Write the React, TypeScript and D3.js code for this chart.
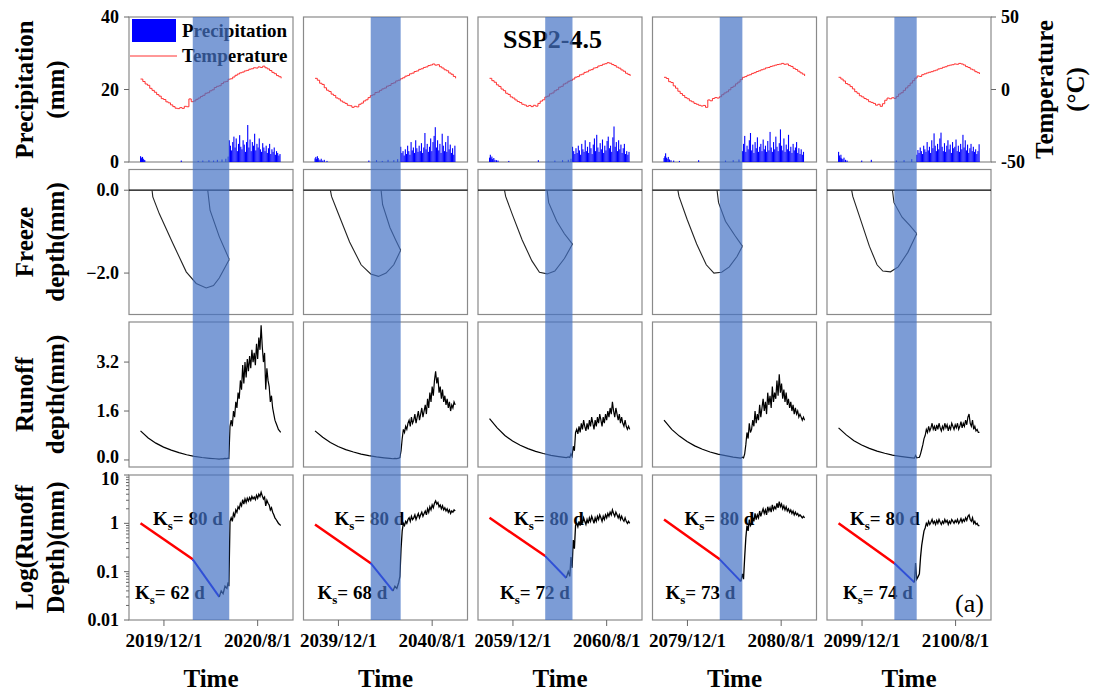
import React from 'react';
import * as d3 from 'd3';

// hydrological years shown in the five columns (each starts Oct 1)
const years = [2019, 2039, 2059, 2079, 2099];

// daily air temperature, sampled every 6 days from Oct 1 (°C)
const tempStep = 6;
const temp1 = [7.2, 5.5, 3.8, 2.9, 0.8, -0.6, -1.9, -3.5, -4.6, -6.3, -6.9, -8.5, -9.2, -10.6, -11.8, -12.9, -13.2, -12.5, -13.0, -11.6, -11.9, -6.5, -8.4, -7.9, -6.8, -5.9, -4.8, -4.0, -2.6, -2.2, -0.9, -0.2, 1.4, 2.2, 2.6, 4.1, 5.2, 5.6, 7.1, 7.4, 8.6, 9.8, 10.7, 11.5, 12.0, 12.8, 13.2, 14.0, 14.3, 15.0, 14.8, 15.6, 15.2, 16.1, 15.0, 14.2, 13.1, 11.8, 10.9, 9.6, 8.8, 7.7];
const temp2 = [7.7, 6.4, 4.3, 3.5, 1.2, -0.5, -1.4, -3.2, -4.1, -5.8, -6.5, -7.9, -8.8, -9.6, -10.9, -11.2, -12.3, -11.6, -12.0, -10.2, -9.4, -7.9, -7.1, -5.6, -4.2, -3.6, -2.1, -1.8, -0.6, 0.4, 1.0, 2.3, 2.8, 4.1, 4.6, 5.9, 6.4, 7.4, 8.1, 9.2, 9.7, 10.8, 11.3, 12.4, 12.8, 13.9, 14.3, 15.2, 15.6, 16.5, 16.9, 17.6, 16.8, 17.1, 15.7, 14.8, 13.6, 12.9, 11.4, 10.5, 9.0, 7.7];
const temp3 = [7.7, 6.1, 5.0, 3.2, 2.1, 0.3, -0.8, -2.6, -3.4, -5.1, -5.9, -7.2, -8.3, -9.0, -10.2, -10.7, -11.6, -11.0, -11.8, -10.9, -11.5, -9.6, -8.0, -7.1, -5.2, -4.6, -3.0, -2.4, -0.9, -0.1, 1.6, 2.2, 3.8, 4.5, 5.7, 6.3, 7.2, 8.5, 8.9, 10.1, 10.6, 11.8, 12.2, 13.3, 13.7, 14.8, 15.1, 16.2, 16.6, 17.4, 17.8, 18.5, 18.1, 17.2, 16.5, 15.4, 14.7, 13.5, 12.6, 11.2, 10.4, 9.3];
const temp4 = [8.4, 7.6, 5.4, 4.8, 2.5, 0.9, -1.2, -2.8, -4.1, -5.6, -6.4, -7.8, -8.5, -9.6, -10.2, -10.9, -11.4, -11.0, -12.3, -7.2, -7.8, -6.2, -5.6, -5.9, -5.0, -3.6, -2.4, -1.6, -0.2, 1.4, 2.3, 3.9, 5.1, 6.8, 8.4, 8.9, 9.8, 10.2, 11.1, 11.6, 12.4, 12.9, 13.6, 14.1, 14.9, 15.2, 15.9, 16.3, 16.8, 17.2, 17.5, 18.0, 17.4, 17.6, 16.5, 15.9, 14.6, 13.8, 12.6, 11.5, 10.6, 9.3];
const temp5 = [8.4, 7.2, 5.9, 4.1, 3.3, 2.0, 0.4, -1.5, -2.6, -4.3, -5.1, -6.2, -7.0, -8.4, -8.9, -9.6, -10.8, -10.2, -11.6, -9.8, -7.4, -5.9, -6.4, -5.7, -6.1, -4.8, -3.1, -2.2, -0.6, 1.1, 2.6, 4.4, 6.1, 7.9, 9.3, 9.0, 10.2, 10.8, 11.4, 11.9, 12.3, 12.9, 13.4, 14.2, 14.6, 15.3, 15.7, 16.4, 16.8, 17.1, 17.6, 17.4, 18.0, 17.6, 16.9, 15.8, 15.2, 14.1, 13.5, 12.3, 11.6, 10.7];
const temps = [temp1, temp2, temp3, temp4, temp5];

// precipitation: wet season every 3 days from wetStart, plus scattered [day, mm] before it
const precipStep = 3;
const wetStart = [231, 223, 216, 204, 203];
const wet1 = [6.0, 4.5, 3.2, 5.5, 7.0, 4.0, 6.5, 3.0, 5.0, 7.4, 4.2, 3.5, 6.0, 4.8, 2.8, 5.5, 10.2, 4.0, 6.2, 3.0, 5.5, 4.5, 7.8, 3.2, 5.0, 4.0, 6.5, 3.5, 2.8, 5.2, 4.0, 3.0, 4.5, 2.5, 3.8, 5.0, 2.2, 3.5, 2.8, 4.0, 2.0, 3.0, 2.5, 1.8, 2.2];
const wet2 = [4.2, 2.5, 3.0, 1.8, 3.5, 2.2, 4.5, 3.0, 2.0, 5.5, 3.2, 4.0, 2.5, 6.0, 3.8, 2.8, 4.5, 3.0, 5.2, 2.5, 4.0, 8.0, 3.5, 5.0, 2.8, 4.2, 6.5, 3.0, 5.5, 7.2, 9.6, 4.0, 6.0, 3.2, 5.0, 2.5, 7.8, 4.5, 3.0, 5.5, 2.8, 7.2, 3.5, 4.8, 2.5, 3.8, 2.0, 4.5];
const wet3 = [4.2, 3.0, 2.2, 3.8, 2.5, 4.5, 3.2, 2.0, 5.0, 3.5, 2.8, 6.0, 3.0, 4.2, 2.5, 5.5, 3.8, 2.2, 4.8, 6.5, 3.0, 7.5, 4.0, 2.8, 5.2, 3.5, 6.2, 2.5, 4.5, 3.2, 5.8, 7.0, 3.8, 4.5, 2.8, 6.8, 9.8, 4.2, 5.5, 3.0, 6.0, 3.5, 4.8, 2.5, 3.8, 5.0, 2.2, 3.0, 2.0, 2.8];
const wet4 = [3.0, 5.0, 7.2, 2.8, 4.5, 3.5, 6.0, 8.0, 3.2, 4.8, 2.5, 5.5, 3.8, 6.8, 2.8, 4.2, 5.0, 3.0, 6.2, 3.5, 4.5, 2.8, 5.8, 3.2, 8.3, 4.0, 2.8, 5.5, 3.5, 7.0, 4.2, 3.0, 5.2, 9.0, 4.5, 3.2, 6.5, 2.8, 4.8, 3.5, 7.5, 3.0, 4.2, 2.5, 5.0, 3.2, 4.0, 5.5, 2.5, 3.8, 2.2, 3.5, 2.0, 2.8];
const wet5 = [2.0, 3.3, 2.5, 4.0, 3.0, 2.2, 4.5, 3.5, 2.8, 5.5, 3.2, 4.2, 2.5, 6.0, 3.8, 7.9, 4.5, 3.0, 5.0, 3.5, 6.5, 8.1, 4.2, 3.0, 5.2, 2.8, 4.5, 6.0, 3.5, 4.8, 2.5, 5.5, 3.8, 4.2, 6.2, 3.0, 4.5, 2.8, 5.0, 3.5, 7.5, 4.0, 6.0, 3.2, 4.8, 2.5, 3.8, 5.0, 3.0, 4.2, 2.8, 3.5, 2.2, 3.0, 4.9];
const wets = [wet1, wet2, wet3, wet4, wet5];
const dry1: [number, number][] = [[0, 1.6], [2, 1.2], [3, 0.8], [5, 1.4], [7, 0.9], [9, 0.6], [11, 0.5], [106, 0.4], [150, 0.3], [162, 0.4], [178, 0.5], [190, 0.4], [200, 0.6], [212, 0.7], [222, 0.9], [228, 1.5]];
const dry2: [number, number][] = [[0, 1.0], [2, 1.4], [4, 0.8], [6, 1.6], [8, 1.1], [10, 0.7], [13, 0.5], [16, 0.9], [20, 0.4], [24, 0.6], [31, 0.3], [140, 0.4], [160, 0.5], [175, 0.3], [190, 0.6], [205, 0.5], [215, 0.8]];
const dry3: [number, number][] = [[0, 1.2], [2, 2.0], [4, 1.0], [6, 1.5], [8, 0.8], [11, 1.1], [14, 0.6], [18, 0.5], [22, 0.4], [50, 0.3], [127, 0.5], [170, 0.4], [190, 0.5], [205, 0.6], [212, 0.9]];
const dry4: [number, number][] = [[0, 1.1], [2, 1.6], [4, 2.4], [6, 1.2], [8, 0.9], [11, 1.4], [14, 0.7], [18, 0.5], [25, 0.4], [40, 0.3], [90, 0.5], [160, 0.4], [180, 0.5], [195, 0.7]];
const dry5: [number, number][] = [[0, 2.8], [2, 1.8], [4, 1.2], [6, 2.0], [8, 1.0], [11, 0.8], [14, 1.2], [18, 0.6], [22, 0.4], [60, 0.4], [85, 0.6], [150, 0.4], [170, 0.5], [190, 0.8]];
const drys = [dry1, dry2, dry3, dry4, dry5];

// freeze depth: freezing front and thawing front, [day, depth]
const freeze1: [number, number][] = [[30, 0], [32, -0.16], [49, -0.57], [84, -1.28], [119, -1.97], [145, -2.25], [171, -2.36], [190, -2.3], [205, -2.12], [231, -1.67]];
const thaw1: [number, number][] = [[175, 0], [181, -0.48], [205, -1.12], [231, -1.67]];
const freeze2: [number, number][] = [[40, 0], [43, -0.15], [60, -0.55], [90, -1.25], [120, -1.8], [145, -2.02], [165, -2.08], [185, -2.0], [205, -1.8], [223, -1.45]];
const thaw2: [number, number][] = [[172, 0], [176, -0.35], [195, -0.9], [210, -1.2], [223, -1.45]];
const freeze3: [number, number][] = [[39, 0], [42, -0.15], [60, -0.6], [85, -1.2], [110, -1.7], [130, -1.98], [150, -2.02], [170, -1.95], [195, -1.65], [216, -1.3]];
const thaw3: [number, number][] = [[150, 0], [154, -0.3], [175, -0.75], [195, -1.05], [216, -1.3]];
const freeze4: [number, number][] = [[36, 0], [39, -0.15], [60, -0.7], [85, -1.3], [110, -1.8], [130, -2.0], [150, -1.98], [170, -1.85], [190, -1.6], [204, -1.35]];
const thaw4: [number, number][] = [[138, 0], [142, -0.3], [160, -0.75], [185, -1.1], [204, -1.35]];
const freeze5: [number, number][] = [[34, 0], [37, -0.15], [55, -0.65], [80, -1.35], [100, -1.8], [115, -1.95], [135, -1.97], [155, -1.85], [180, -1.5], [203, -1.05]];
const thaw5: [number, number][] = [[140, 0], [144, -0.3], [165, -0.65], [185, -0.85], [203, -1.05]];
const freezes = [freeze1, freeze2, freeze3, freeze4, freeze5];
const thaws = [thaw1, thaw2, thaw3, thaw4, thaw5];

// runoff depth: recession [day, mm], then every 3 days from runoffWetStart
const decay1: [number, number][] = [[0, 0.95], [20, 0.72], [40, 0.55], [60, 0.42], [80, 0.32], [100, 0.24], [120, 0.17], [140, 0.12], [160, 0.08], [180, 0.055], [195, 0.04], [205, 0.03], [210, 0.04], [215, 0.035], [220, 0.05], [225, 0.045], [228, 0.06]];
const decay2: [number, number][] = [[0, 0.95], [20, 0.74], [40, 0.57], [60, 0.44], [80, 0.34], [100, 0.26], [120, 0.19], [140, 0.14], [160, 0.1], [180, 0.07], [195, 0.05], [203, 0.04], [208, 0.05], [213, 0.045], [218, 0.06]];
const decay3: [number, number][] = [[0, 1.35], [20, 1.05], [40, 0.8], [60, 0.62], [80, 0.48], [100, 0.37], [120, 0.28], [140, 0.21], [160, 0.15], [180, 0.11], [200, 0.075], [205, 0.1], [209, 0.08]];
const decay4: [number, number][] = [[0, 1.3], [20, 1.0], [40, 0.78], [60, 0.6], [80, 0.46], [100, 0.35], [120, 0.26], [140, 0.19], [160, 0.14], [180, 0.095], [200, 0.063], [204, 0.09], [207, 0.07]];
const decay5: [number, number][] = [[0, 1.05], [20, 0.82], [40, 0.63], [60, 0.49], [80, 0.38], [100, 0.29], [120, 0.22], [140, 0.16], [160, 0.12], [180, 0.085], [197, 0.06], [200, 0.15], [203, 0.07], [207, 0.08]];
const decays = [decay1, decay2, decay3, decay4, decay5];
const runoffWetStart = [230, 221, 212, 210, 210];
const flow1 = [0.05, 1.1, 1.3, 1.1, 1.6, 1.4, 1.9, 1.7, 2.2, 2.0, 2.6, 2.3, 3.1, 2.5, 3.2, 2.7, 3.3, 2.9, 3.4, 3.0, 3.6, 3.2, 3.5, 3.1, 3.8, 3.3, 4.0, 3.6, 4.4, 3.7, 3.2, 3.5, 2.3, 3.0, 2.6, 2.4, 1.9, 2.1, 1.7, 1.5, 1.3, 1.2, 1.1, 1.0, 0.95, 0.9];
const flow2 = [0.08, 0.3, 0.7, 1.0, 0.9, 1.1, 1.0, 1.2, 1.3, 1.1, 1.4, 1.2, 1.3, 1.5, 1.2, 1.4, 1.6, 1.3, 1.5, 1.7, 1.4, 1.6, 1.8, 1.5, 2.0, 1.7, 2.2, 1.9, 2.4, 2.1, 2.6, 2.9, 2.5, 2.7, 2.2, 2.4, 2.0, 2.3, 1.9, 2.1, 1.8, 2.0, 1.7, 1.9, 1.6, 1.8, 1.7, 1.9, 1.8];
const flow3 = [0.2, 0.12, 0.45, 0.3, 0.9, 1.0, 0.85, 1.1, 0.9, 1.2, 1.0, 1.3, 1.1, 0.95, 1.2, 1.0, 1.3, 1.1, 1.4, 1.2, 1.0, 1.3, 1.1, 1.4, 1.2, 1.5, 1.3, 1.1, 1.4, 1.2, 1.5, 1.3, 1.6, 1.4, 1.7, 1.5, 1.9, 1.6, 1.4, 1.7, 1.5, 1.3, 1.5, 1.2, 1.4, 1.2, 1.1, 1.3, 1.1, 1.0, 1.1, 1.0];
const flow4 = [0.2, 0.5, 0.9, 0.7, 1.2, 0.9, 1.0, 1.3, 1.1, 1.6, 1.2, 1.5, 1.3, 1.8, 1.4, 1.7, 2.0, 1.6, 1.9, 1.5, 2.2, 1.8, 2.1, 1.7, 2.4, 1.9, 2.2, 2.0, 2.6, 2.1, 2.8, 2.2, 2.5, 2.0, 2.3, 1.9, 2.2, 1.8, 2.0, 1.7, 1.9, 1.6, 1.8, 1.5, 1.7, 1.5, 1.6, 1.4, 1.5, 1.4, 1.3, 1.4, 1.3];
const flow5 = [0.09, 0.2, 0.35, 0.5, 0.7, 0.8, 1.0, 0.9, 1.1, 0.95, 1.05, 1.2, 1.0, 1.1, 0.95, 1.15, 1.0, 1.2, 1.05, 0.95, 1.1, 1.0, 1.2, 1.05, 1.15, 0.95, 1.1, 1.0, 1.2, 1.1, 1.0, 1.15, 1.05, 1.2, 1.0, 1.1, 1.25, 1.05, 1.2, 1.1, 1.3, 1.15, 1.4, 1.5, 1.2, 1.1, 1.3, 1.0, 1.1, 0.95, 1.0, 0.9, 0.9];
const flows = [flow1, flow2, flow3, flow4, flow5];

// frozen period band (days from Oct 1)
const bands = [[136, 231], [145, 223], [145, 216], [145, 204], [145, 203]];

// recession fits on log axis: red (Ks = 80 d), blue (frozen period)
const redFits: [number, number][][] = [[[0, 1.0], [136, 0.18]], [[0, 0.95], [145, 0.15]], [[0, 1.3], [145, 0.21]], [[0, 1.2], [145, 0.18]], [[0, 1.0], [145, 0.15]]];
const blueFits: [number, number][][] = [[[136, 0.18], [205, 0.03]], [[145, 0.15], [203, 0.04]], [[145, 0.21], [200, 0.074]], [[145, 0.18], [200, 0.063]], [[145, 0.15], [197, 0.06]]];
const ksOpen = [80, 80, 80, 80, 80];
const ksFrozen = [62, 68, 72, 73, 74];

const precipTicks = [0, 20, 40];
const tempTicks = [-50, 0, 50];
const freezeTicks = [0, -2];
const runoffTicks = [0, 1.6, 3.2];
const logTicks = [0.01, 0.1, 1, 10];

// layout
const W = 1094, H = 695;
const panelLeft = [129, 303.5, 478, 652.5, 827];
const panelW = 164;
const rowTop = [17, 169.5, 322, 475];
const rowH = 145;
const ksTopDx = [24, 31, 36, 32, 23];
const ksLowDx = [6, 14, 22, 13, 16];

const FONT = "'Liberation Serif', 'Times New Roman', serif";

const Ks = ({ x, y, v }: { x: number; y: number; v: number }) => (
  <text x={x} y={y} fontSize={19} fontWeight="bold">
    K<tspan fontSize={13} dy={5}>s</tspan><tspan dy={-5}>= {v} d</tspan>
  </text>
);

export default function App() {
  const yPrecip = d3.scaleLinear().domain([0, 40]).range([rowTop[0] + rowH, rowTop[0]]);
  const yTemp = d3.scaleLinear().domain([-50, 50]).range([rowTop[0] + rowH, rowTop[0]]);
  const yFreeze = d3.scaleLinear().domain([-3, 0.5]).range([rowTop[1] + rowH, rowTop[1]]);
  const yRunoff = d3.scaleLinear().domain([-0.23, 4.51]).range([rowTop[2] + rowH, rowTop[2]]);
  const yLog = d3.scaleLog().domain([0.01, 10]).range([rowTop[3] + rowH, rowTop[3]]);
  const logMinor = [0.01, 0.1, 1].flatMap(d => d3.range(2, 10).map(k => d * k));

  const bandTop = rowTop[0];
  const bandBottom = rowTop[3] + rowH;

  // dy nudges keep the stacked labels at the row joins (runoff 0.0 / log 10) apart
  const leftAxis = (ticks: number[], scale: (v: number) => number, fmt: (v: number) => string, dy: (v: number) => number = () => 6) =>
    ticks.map(t => (
      <g key={t}>
        <line x1={panelLeft[0] - 5} x2={panelLeft[0]} y1={scale(t)} y2={scale(t)} stroke="#666" />
        <text x={panelLeft[0] - 10} y={scale(t) + dy(t)} textAnchor="end" fontSize={18} fontWeight="bold">{fmt(t)}</text>
      </g>
    ));

  return (
    <svg width={W} height={H} style={{ position: 'absolute', left: 0, top: 0, background: '#fff' }} fontFamily={FONT}>
      <rect width={W} height={H} fill="#fff" />
      {years.map((yr, p) => {
        const left = panelLeft[p];
        const x = d3.scaleTime().domain([new Date(yr, 8, 1), new Date(yr + 1, 10, 1)]).range([left, left + panelW]);
        const day = (d: number) => x(d3.timeDay.offset(new Date(yr, 9, 1), d));
        const tempLine = d3.line<number>().x((_, i) => day(i * tempStep)).y(v => yTemp(v)).curve(d3.curveStepAfter);
        const freezeLine = d3.line<[number, number]>().x(d => day(d[0])).y(d => yFreeze(d[1]));
        const series: [number, number][] = decays[p].concat(flows[p].map((v, i) => [runoffWetStart[p] + i * 3, v] as [number, number]));
        const runoffLine = d3.line<[number, number]>().x(d => day(d[0])).y(d => yRunoff(d[1]));
        const logLine = d3.line<[number, number]>().x(d => day(d[0])).y(d => yLog(d[1]));
        const blueEnd = blueFits[p][1][0];
        const bars: [number, number][] = drys[p].concat(wets[p].map((v, i) => [wetStart[p] + i * precipStep, v] as [number, number]));
        const ticksX = [new Date(yr, 11, 1), new Date(yr + 1, 7, 1)];
        return (
          <g key={yr}>
            {rowTop.map(t => (
              <rect key={t} x={left} y={t} width={panelW} height={rowH} fill="none" stroke="#8a8a8a" strokeWidth={1.2} />
            ))}
            {/* precipitation + temperature */}
            {bars.map((b, i) => (
              <rect key={i} x={day(b[0]) - 0.5} y={yPrecip(b[1])} width={1.1} height={yPrecip(0) - yPrecip(b[1])} fill="#0000ff" />
            ))}
            <path d={tempLine(temps[p]) || ''} fill="none" stroke="#ff3030" strokeWidth={1} />
            {/* freeze depth */}
            <line x1={left} x2={left + panelW} y1={yFreeze(0)} y2={yFreeze(0)} stroke="#000" strokeWidth={1.3} />
            <path d={freezeLine(freezes[p]) || ''} fill="none" stroke="#222" strokeWidth={1.1} />
            <path d={freezeLine(thaws[p]) || ''} fill="none" stroke="#222" strokeWidth={1.1} />
            {/* runoff */}
            <path d={runoffLine(series) || ''} fill="none" stroke="#000" strokeWidth={1.2} />
            {/* log runoff */}
            <path d={logLine(redFits[p]) || ''} fill="none" stroke="#ff0000" strokeWidth={2.5} />
            <path d={logLine(blueFits[p]) || ''} fill="none" stroke="#0000ff" strokeWidth={2} />
            <path d={logLine(series.filter(d => d[0] >= blueEnd)) || ''} fill="none" stroke="#000" strokeWidth={1.3} />
            <Ks x={left + ksTopDx[p]} y={525} v={ksOpen[p]} />
            <Ks x={left + ksLowDx[p]} y={599} v={ksFrozen[p]} />
            {/* x axis */}
            {ticksX.map((d, i) => (
              <g key={i}>
                <line x1={x(d)} x2={x(d)} y1={bandBottom} y2={bandBottom + 6} stroke="#666" />
                <text x={x(d)} y={647} textAnchor="middle" fontSize={19} fontWeight="bold">
                  {`${d.getFullYear()}/${d.getMonth() + 1}/${d.getDate()}`}
                </text>
              </g>
            ))}
            <text x={left + panelW / 2} y={687} textAnchor="middle" fontSize={25} fontWeight="bold">Time</text>
          </g>
        );
      })}

      {/* left axes */}
      {leftAxis(precipTicks, yPrecip, v => String(v))}
      {leftAxis(freezeTicks, yFreeze, d3.format('.1f'))}
      {leftAxis(runoffTicks, yRunoff, d3.format('.1f'), v => (v === 0 ? 3 : 6))}
      {leftAxis(logTicks, yLog, v => String(v), v => (v === 10 ? 10 : 6))}
      {logMinor.map(t => (
        <line key={t} x1={panelLeft[0] - 3} x2={panelLeft[0]} y1={yLog(t)} y2={yLog(t)} stroke="#666" />
      ))}
      {/* right temperature axis */}
      {tempTicks.map(t => (
        <g key={t}>
          <line x1={panelLeft[4] + panelW} x2={panelLeft[4] + panelW + 5} y1={yTemp(t)} y2={yTemp(t)} stroke="#666" />
          <text x={panelLeft[4] + panelW + 10} y={yTemp(t) + 6} fontSize={18} fontWeight="bold">{t}</text>
        </g>
      ))}

      {/* axis titles */}
      {[
        ['Precipitation', '(mm)'],
        ['Freeze', 'depth(mm)'],
        ['Runoff', 'depth(mm)'],
        ['Log(Runoff', 'Depth)(mm)'],
      ].map((lines, r) => {
        const cy = rowTop[r] + rowH / 2;
        return (
          <g key={r} fontSize={25} fontWeight="bold" textAnchor="middle">
            <text transform={`translate(33,${cy}) rotate(-90)`}>{lines[0]}</text>
            <text transform={`translate(64,${cy}) rotate(-90)`}>{lines[1]}</text>
          </g>
        );
      })}
      <g fontSize={25} fontWeight="bold" textAnchor="middle">
        <text transform={`translate(1053,${rowTop[0] + rowH / 2}) rotate(-90)`}>Temperature</text>
        <text transform={`translate(1084,${rowTop[0] + rowH / 2}) rotate(-90)`}>(°C)</text>
      </g>

      {/* legend */}
      <rect x={132} y={19} width={44} height={23} fill="#0000ff" />
      <line x1={130} x2={177} y1={56} y2={56} stroke="#ff3030" strokeWidth={1} />
      <text x={182} y={37} fontSize={19} fontWeight="bold">Precipitation</text>
      <text x={182} y={62} fontSize={19} fontWeight="bold">Temperature</text>

      <text x={503} y={48} fontSize={26} fontWeight="bold">SSP2-4.5</text>
      <text x={955} y={612} fontSize={26}>(a)</text>

      {/* frozen-period bands drawn over everything */}
      {years.map((yr, p) => {
        const left = panelLeft[p];
        const x = d3.scaleTime().domain([new Date(yr, 8, 1), new Date(yr + 1, 10, 1)]).range([left, left + panelW]);
        const x0 = x(d3.timeDay.offset(new Date(yr, 9, 1), bands[p][0]));
        const x1 = x(d3.timeDay.offset(new Date(yr, 9, 1), bands[p][1]));
        return <rect key={yr} x={x0} y={bandTop} width={x1 - x0} height={bandBottom - bandTop} fill="#4472c4" opacity={0.7} />;
      })}
    </svg>
  );
}
